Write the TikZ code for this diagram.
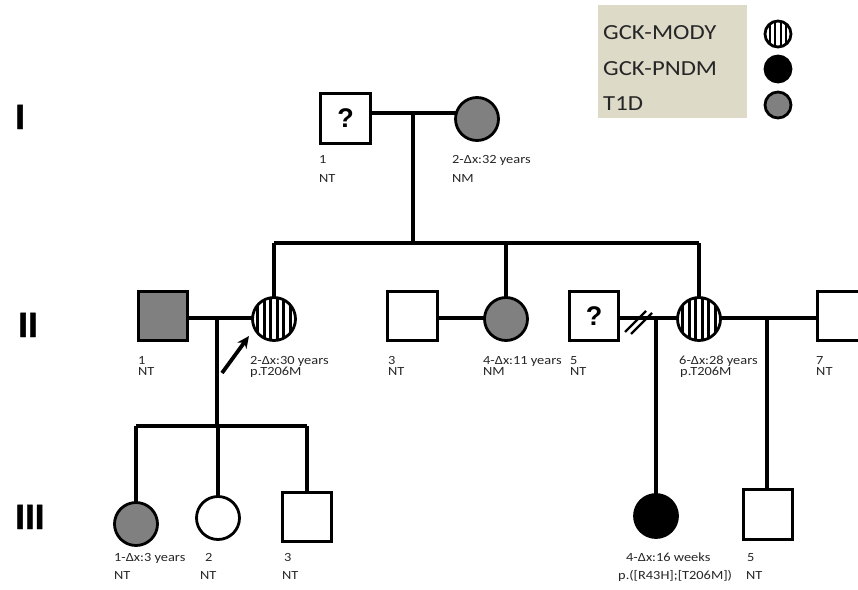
\documentclass[tikz,border=0pt]{standalone}
\usepackage{fontspec}
\usetikzlibrary{arrows.meta,calc}
\newfontfamily\labfont{Carlito}[FakeStretch=1.15]
\newfontfamily\genfont{Liberation Sans}[FakeBold=1.2]
\newfontfamily\qfont{Liberation Sans}
\definecolor{pgray}{RGB}{128,128,128}
\definecolor{legbg}{RGB}{221,218,200}
\tikzset{
  indiv/.style={draw=black, line width=2.8pt, inner sep=0pt, outer sep=0pt},
  male/.style={indiv, rectangle, minimum size=49.5pt},
  female/.style={indiv, circle, minimum size=43pt},
  legcirc/.style={indiv, circle, minimum size=26pt},
  hatched/.style={path picture={\foreach \dx in {-16.25,-9.75,-3.25,3.25,9.75,16.25}
      \draw[line width=2.8pt] ([xshift=\dx pt]path picture bounding box.north) -- ([xshift=\dx pt]path picture bounding box.south);}},
  leghatched/.style={path picture={\foreach \dx in {-8.25,-2.75,2.75,8.25}
      \draw[line width=2.2pt] ([xshift=\dx pt]path picture bounding box.north) -- ([xshift=\dx pt]path picture bounding box.south);}},
  qmark/.style={font=\qfont\bfseries\fontsize{27}{27}\selectfont},
  conn/.style={line width=3.3pt},
  slash/.style={line width=2.2pt},
  lab/.style={anchor=base west, inner sep=0pt, font=\labfont\fontsize{12.5}{14}\selectfont, text=black!85},
  legtext/.style={anchor=base west, inner sep=0pt, font=\labfont\fontsize{21.5}{24}\selectfont, text=black!85},
  gen/.style={anchor=base west, inner sep=0pt, font=\genfont\bfseries\fontsize{35}{35}\selectfont},
}
\begin{document}
\begin{tikzpicture}[x=1pt,y=-1pt]
\useasboundingbox (0,0) rectangle (858,589);

% legend
\node[fill=legbg, anchor=north west, minimum width=149pt, minimum height=113pt, inner sep=0pt] (leg) at (598,5) {};
\node[legtext] (lt1) at (603,39) {GCK-MODY};
\node[legtext] (lt2) at (603,75) {GCK-PNDM};
\node[legtext] (lt3) at (603,110) {T1D};
\node[legcirc, leghatched] (lc1) at (778,34) {};
\node[legcirc, fill=black] (lc2) at (778,69) {};
\node[legcirc, fill=pgray] (lc3) at (778,105) {};

% generation labels
\node[gen] (g1) at (15,129) {I};
\node[gen] (g2) at (18,337) {II};
\node[gen] (g3) at (15,529) {III};

% generation I
\node[male, qmark] (I1) at (345.5,118.5) {?};
\node[female, fill=pgray] (I2) at (477,119) {};
\coordinate (m1) at (413,113);
\coordinate (s2) at (413,243);
\draw[conn] (I1.east |- m1) -- (I2.west |- m1);
\draw[conn] (m1) -- (s2);
\node[lab] (l1a) at (319,163) {1};
\node[lab] (l1b) at (319,182) {NT};
\node[lab] (l2a) at (452,163) {2-Δx:32 years};
\node[lab] (l2b) at (452,182) {NM};

% generation II
\node[male, fill=pgray] (II1) at (163,316) {};
\node[female, hatched] (II2) at (274,319) {};
\node[male] (II3) at (412.5,316) {};
\node[female, fill=pgray] (II4) at (506,319) {};
\node[male, qmark] (II5) at (594,316) {?};
\node[female, hatched] (II6) at (699,319) {};
\node[male] (II7) at (842,316) {};

\draw[conn] (II2.north |- s2) -- (II6.north |- s2);
\draw[conn] (II2.north |- s2) -- (II2.north);
\draw[conn] (II4.north |- s2) -- (II4.north);
\draw[conn] (II6.north |- s2) -- (II6.north);

\coordinate (m2) at (217,318);
\coordinate (m2b) at (460,318);
\coordinate (m3) at (656,318);
\coordinate (m4) at (767,318);
\draw[conn] (II1.east |- m2) -- (II2.west |- m2);
\draw[conn] (II3.east |- m2b) -- (II4.west |- m2b);
\draw[conn] (II5.east |- m3) -- (II6.west |- m3);
\draw[conn] (II6.east |- m4) -- (II7.west |- m4);
% divorce marks
\draw[slash] (625,332) -- (646,311);
\draw[slash] (631,334) -- (652,313);

% proband arrow
\coordinate (ar1) at (222,373);
\coordinate (ar2) at (249,336);
\draw[line width=3.8pt, -{Stealth[length=12pt,width=11pt]}] (ar1) -- (ar2);

\node[lab] (l21a) at (138,364) {1};
\node[lab] (l21b) at (138,375) {NT};
\node[lab] (l22a) at (250,364) {2-Δx:30 years};
\node[lab] (l22b) at (250,375) {p.T206M};
\node[lab] (l23a) at (388,364) {3};
\node[lab] (l23b) at (388,375) {NT};
\node[lab] (l24a) at (483,364) {4-Δx:11 years};
\node[lab] (l24b) at (483,375) {NM};
\node[lab] (l25a) at (570,364) {5};
\node[lab] (l25b) at (570,375) {NT};
\node[lab] (l26a) at (679,364) {6-Δx:28 years};
\node[lab] (l26b) at (680,375) {p.T206M};
\node[lab] (l27a) at (816,364) {7};
\node[lab] (l27b) at (816,375) {NT};

% generation III
\node[female, fill=pgray] (III1) at (136,524) {};
\node[female] (III2) at (218,518) {};
\node[male] (III3) at (307,517) {};
\node[female, fill=black] (III4) at (656,516) {};
\node[male] (III5) at (768,514.5) {};

\coordinate (s3) at (217,426);
\draw[conn] (m2) -- (s3);
\draw[conn] (III1.north |- s3) -- (III3.north |- s3);
\draw[conn] (III1.north |- s3) -- (III1.north);
\draw[conn] (III2.north |- s3) -- (III2.north);
\draw[conn] (III3.north |- s3) -- (III3.north);
\draw[conn] (m3) -- (m3 |- III4.north);
\draw[conn] (m4) -- (m4 |- III5.north);

\node[lab] (l31a) at (114,561) {1-Δx:3 years};
\node[lab] (l31b) at (114,579) {NT};
\node[lab] (l32a) at (205,561) {2};
\node[lab] (l32b) at (200,579) {NT};
\node[lab] (l33a) at (284,561) {3};
\node[lab] (l33b) at (282,579) {NT};
\node[lab] (l34a) at (626,561) {4-Δx:16 weeks};
\node[lab] (l34b) at (618,579) {p.([R43H];[T206M])};
\node[lab] (l35a) at (747,561) {5};
\node[lab] (l35b) at (746,579) {NT};
\end{tikzpicture}
\end{document}
